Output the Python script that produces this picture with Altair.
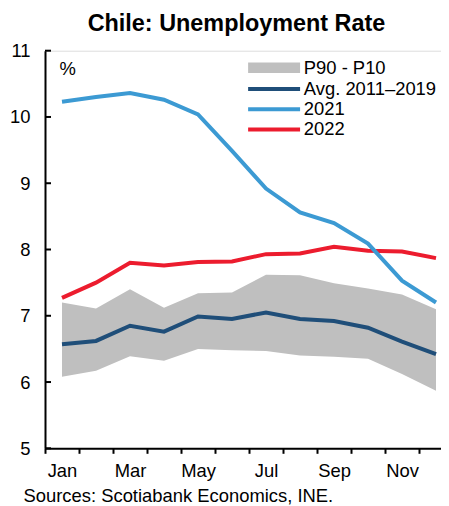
import json
import altair as alt
import pandas as pd

months = ["Jan", "Feb", "Mar", "Apr", "May", "Jun", "Jul", "Aug", "Sep", "Oct", "Nov", "Dec"]
label_months = ["Jan", "Mar", "May", "Jul", "Sep", "Nov"]
y_ticks = [5, 6, 7, 8, 9, 10, 11]

p90 = [7.20, 7.11, 7.40, 7.12, 7.34, 7.35, 7.62, 7.61, 7.49, 7.41, 7.32, 7.10]
p10 = [6.08, 6.17, 6.39, 6.32, 6.50, 6.48, 6.47, 6.40, 6.38, 6.35, 6.12, 5.87]
avg_2011_2019 = [6.57, 6.62, 6.85, 6.76, 6.99, 6.95, 7.05, 6.95, 6.92, 6.82, 6.61, 6.42]
rate_2021 = [10.23, 10.30, 10.36, 10.26, 10.04, 9.49, 8.92, 8.56, 8.40, 8.09, 7.53, 7.20]
rate_2022 = [7.27, 7.50, 7.80, 7.76, 7.81, 7.82, 7.93, 7.94, 8.04, 7.98, 7.97, 7.87]

band_name = "P90 - P10"
series_names = ["Avg. 2011\u20132019", "2021", "2022"]
series_colors = ["#1F4E79", "#3C9AD3", "#EC1C2E"]
band_color = "#BFBFBF"

FONT = "Liberation Sans"
FS = 18.4

band_df = pd.DataFrame({"month": months, "p90": p90, "p10": p10, "band": band_name})
rows = []
for name, vals in [(series_names[0], avg_2011_2019), (series_names[2], rate_2022), (series_names[1], rate_2021)]:
    for m, v in zip(months, vals):
        rows.append({"month": m, "series": name, "value": v})
lines_df = pd.DataFrame(rows)
ticks_df = pd.DataFrame({"value": y_ticks})

x_scale = alt.Scale(type="band", domain=months, paddingInner=0, paddingOuter=0, range=[0, 408])
y_scale = alt.Scale(domain=[5, 11], nice=False, zero=False)

label_expr = "indexof(" + json.dumps(label_months) + ", datum.value) >= 0 ? datum.label : ''"

x_axis = alt.Axis(
    title="Sources: Scotiabank Economics, INE.",
    titleFont=FONT, titleFontSize=FS, titleFontWeight="normal", titleColor="black",
    titleAlign="left", titleAnchor="start", titleBaseline="alphabetic",
    titleX=-22, titleY=53.2,
    labelExpr=label_expr, labelAngle=0, labelFont=FONT, labelFontSize=FS, labelColor="black",
    labelBaseline="alphabetic", labelPadding=23.4, labelOverlap=False,
    tickBand="extent", tickSize=5, tickWidth=2, tickColor="black",
    domainColor="black", domainWidth=2, grid=False,
)
y_axis = alt.Axis(
    title="%", titleAngle=0, titleFont=FONT, titleFontSize=FS, titleFontWeight="normal",
    titleColor="black", titleAlign="left", titleBaseline="alphabetic", titleX=14, titleY=24,
    values=y_ticks, ticks=False, labelFont=FONT, labelFontSize=FS, labelColor="black",
    labelPadding=15, domainColor="black", domainWidth=2, grid=False,
)

X = alt.X("month:O", sort=months, scale=x_scale, axis=x_axis)

band = alt.Chart(band_df).mark_area(opacity=1).encode(
    x=X,
    y=alt.Y("p90:Q", scale=y_scale, axis=y_axis),
    y2="p10:Q",
    fill=alt.Fill(
        "band:N",
        scale=alt.Scale(domain=[band_name], range=[band_color]),
        legend=alt.Legend(
            orient="none", legendX=219.9, legendY=7.9, title=None, padding=0,
            symbolType="M-5,-1L5,-1L5,1L-5,1Z", symbolSize=108, symbolOpacity=1,
            symbolStrokeWidth=0, labelOffset=20.5,
            labelFont=FONT, labelFontSize=FS, labelColor="black",
        ),
    ),
)

inner_ticks = alt.Chart(ticks_df).mark_rule(color="black", strokeWidth=2).encode(
    y=alt.Y("value:Q", scale=y_scale, axis=y_axis),
    x=alt.value(0),
    x2=alt.value(6),
)

lines = alt.Chart(lines_df).mark_line(strokeWidth=4).encode(
    x=X,
    y=alt.Y("value:Q", scale=y_scale, axis=y_axis),
    stroke=alt.Stroke(
        "series:N",
        scale=alt.Scale(domain=series_names, range=series_colors),
        legend=alt.Legend(
            orient="none", legendX=219.9, legendY=29.1, title=None, padding=0,
            symbolType="M-5,0L5,0", symbolSize=108, symbolStrokeWidth=4,
            labelOffset=20.5, rowPadding=1.2,
            labelFont=FONT, labelFontSize=FS, labelColor="black",
        ),
    ),
    detail="series:N",
)

chart = alt.layer(band, inner_ticks, lines).properties(
    width=396,
    height=397.6,
    title=alt.TitleParams(
        "Chile: Unemployment Rate", font=FONT, fontSize=23.4, fontWeight="bold",
        color="black", anchor="middle", dx=-6.5, dy=21.5, offset=8.7, baseline="alphabetic",
    ),
    autosize=alt.AutoSizeParams(type="none"),
    padding={"left": 37, "top": 42.7, "right": 0, "bottom": 57.7},
).configure_view(stroke=None).configure(font=FONT, background="white")

chart.save("out.html", embed_options={"renderer": "svg", "actions": False})
